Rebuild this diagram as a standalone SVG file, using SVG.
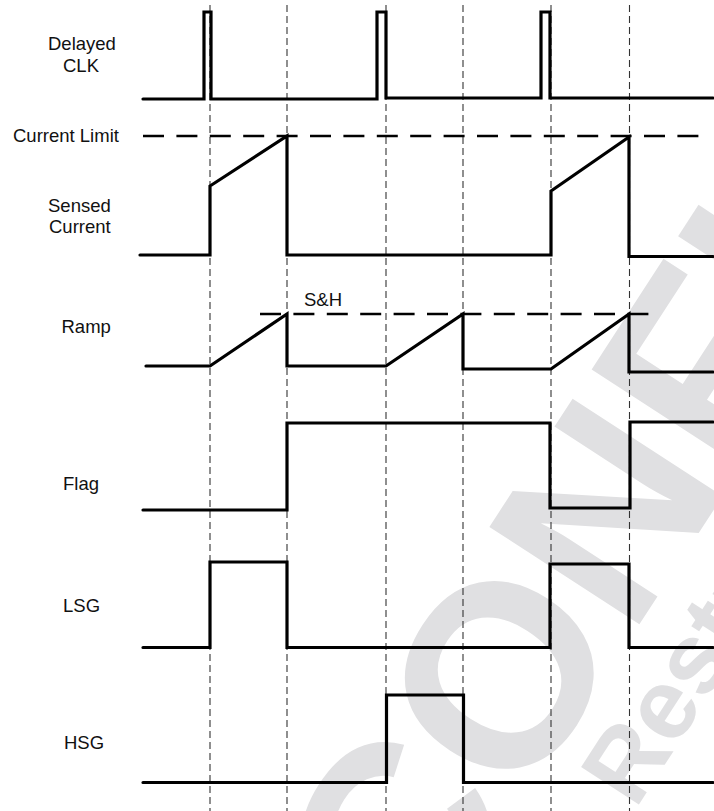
<svg xmlns="http://www.w3.org/2000/svg" width="714" height="811" viewBox="0 0 714 811">
<style>
.lbl{font-family:"Liberation Sans",Arial,sans-serif;font-size:18.5px;fill:#111}
.wave{fill:none;stroke:#000;stroke-width:3.2;stroke-linecap:round;stroke-linejoin:miter}
.lim{fill:none;stroke:#000;stroke-width:2.4;stroke-dasharray:21 12.4}
.mark{fill:none;stroke:#333;stroke-width:1.1;stroke-dasharray:7 4}
.wm{font-family:"Liberation Sans",Arial,sans-serif;font-weight:bold;fill:#e0e0e2}
</style>
<rect width="714" height="811" fill="#fff"/>
<g id="watermark">
<text class="wm" font-size="260" transform="translate(417.5,966) rotate(-57)">CONFIDENTIAL</text>
<text class="wm" font-size="100" transform="translate(504.1,1011.8) rotate(-57)">NDA Restrictions</text>
</g>
<g id="connectors">
<line class="mark" x1="210" y1="5" x2="210" y2="811"/>
<line class="mark" x1="287" y1="5" x2="287" y2="811"/>
<line class="mark" x1="386" y1="5" x2="386" y2="811"/>
<line class="mark" x1="463" y1="5" x2="463" y2="811"/>
<line class="mark" x1="551" y1="5" x2="551" y2="811"/>
<line class="mark" x1="629.5" y1="5" x2="629.5" y2="811"/>
</g>
<g id="delayed-clk">
<text class="lbl" x="48" y="50">Delayed</text>
<text class="lbl" x="63" y="72">CLK</text>
<path class="wave" d="M143,99 H204 V12 H211 V99 H377 V12 H386 V98 H541 V12 H550 V98 H713"/>
</g>
<g id="current-limit">
<text class="lbl" x="13" y="142">Current Limit</text>
<line class="lim" x1="143" y1="136" x2="702" y2="136"/>
</g>
<g id="sensed-current">
<text class="lbl" x="48" y="212">Sensed</text>
<text class="lbl" x="49" y="233">Current</text>
<path class="wave" d="M140,255 H210 V186 L287,136 V255 H551 V191 L629,137 V256.5 H713"/>
</g>
<g id="ramp">
<text class="lbl" x="304" y="306">S&amp;H</text>
<line class="lim" x1="260" y1="314" x2="652" y2="314"/>
<text class="lbl" x="61.5" y="333">Ramp</text>
<path class="wave" d="M146,366 H210 L287,314 V366 H386 L463,314 V369 H551 L629,314 V372 H713"/>
</g>
<g id="flag">
<text class="lbl" x="63" y="490">Flag</text>
<path class="wave" d="M143,510 H287 V423 H550 V508 H630 V422 H713"/>
</g>
<g id="lsg">
<text class="lbl" x="63" y="612">LSG</text>
<path class="wave" d="M143,647.5 H210 V562 H287 V647.5 H550 V564 H629 V647.5 H713"/>
</g>
<g id="hsg">
<text class="lbl" x="64" y="749">HSG</text>
<path class="wave" d="M143,782.5 H386.5 V695 H463.5 V782.5 H713"/>
</g>
</svg>
